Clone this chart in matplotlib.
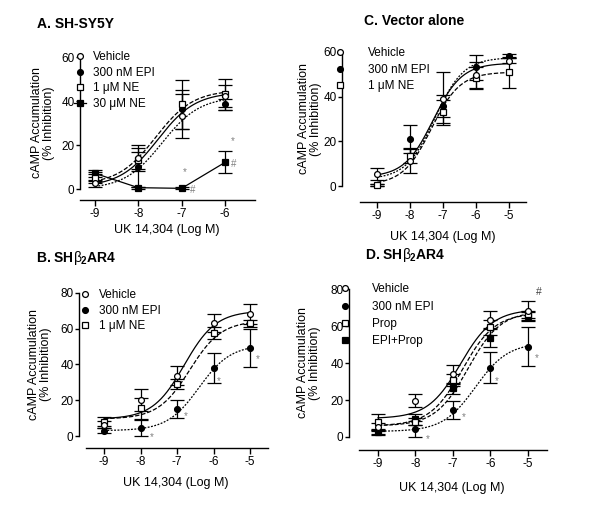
import numpy as np
import matplotlib
matplotlib.use('Agg')
import matplotlib.pyplot as plt
from matplotlib.lines import Line2D

plt.rcParams['font.family'] = ['Liberation Sans', 'DejaVu Sans']
plt.rcParams['mathtext.fontset'] = 'custom'
plt.rcParams['mathtext.rm'] = 'Liberation Sans'
plt.rcParams['mathtext.it'] = 'Liberation Sans'
plt.rcParams['mathtext.bf'] = 'Liberation Sans:bold'

W, H = 600, 516

# ---- data (log M of UK 14,304) ----
x_a = [-9, -8, -7, -6]
x_5 = [-9, -8, -7, -6, -5]

# A. SH-SY5Y
a_veh = [2.6, 14.2, 33.2, 42.5]
a_veh_err = [1.5, 6, 10, 5]
a_epi = [5.6, 9.8, 36.2, 38.6]
a_epi_err = [2, 9, 9, 2.5]
a_ne1 = [4.8, 13, 38.5, 43]
a_ne1_err = [2, 4, 11, 7]
a_ne30 = [7.1, 0.6, 0.3, 12.1]
a_ne30_err = [1.5, 0.5, 0.5, 5]
# fitted curve parameters (bottom, top, logEC50)
a_fit = {'veh': (1, 44, -7.55), 'epi': (0, 42, -7.45), 'ne1': (2, 45, -7.6)}

# C. Vector alone
c_veh = [5.4, 11.2, 39.1, 49.7, 56.1]
c_veh_err = [2.5, 5.5, 11.8, 6, 1.2]
c_epi = [0.5, 21, 35.8, 53.1, 58.2]
c_epi_err = [0.5, 6.3, 5, 5.6, 1]
c_ne1 = [0.3, 13.6, 33.3, 48.2, 50.9]
c_ne1_err = [0.5, 3.5, 5, 5, 7]
c_fit = {'veh': (4, 55, -7.3), 'epi': (3, 57.5, -7.25), 'ne1': (0.5, 51, -7.35)}

# B. SHb2AR4
b_veh = [6.2, 20.1, 33.8, 63.4, 68.3]
b_veh_err = [2, 6, 5.5, 5, 5.5]
b_epi = [3.0, 4.7, 14.9, 37.9, 49.1]
b_epi_err = [1.5, 4.5, 5, 8.5, 10.5]
b_ne1 = [8, 15.5, 29.1, 57.5, 63]
b_ne1_err = [2.5, 6, 3, 3.5, 2]
b_fit = {'veh': (9.5, 70, -6.8), 'epi': (3, 51, -6.4), 'ne1': (9.5, 64.5, -6.65)}

# D. SHb2AR4
d_veh = [5.6, 19.6, 33.9, 63.2, 68.1]
d_veh_err = [2, 3.5, 5, 5, 5.5]
d_epi = [3.0, 4.3, 14.6, 37.5, 48.8]
d_epi_err = [1.5, 4.3, 5, 8.4, 10.5]
d_prop = [7.9, 8.3, 30.8, 59.3, 66.3]
d_prop_err = [4.5, 2, 3, 4, 2]
d_epiprop = [2.5, 9.7, 26.3, 53.7, 65.5]
d_epiprop_err = [1.5, 3, 3, 5, 2]
d_fit = {'veh': (10, 69, -6.8), 'epi': (3, 51, -6.4),
         'prop': (6, 67, -6.75), 'epiprop': (6, 68, -6.6)}

# significance marks (x, y, symbol)
a_marks = [(-6.92, 7.9, '*'), (-6.75, -0.5, '#'), (-5.81, 21.8, '*'), (-5.81, 11.4, '#')]
b_marks = [(-7.68, -0.4, '*'), (-6.75, 11.4, '*'), (-5.85, 31, '*'), (-4.80, 43.1, '*')]
d_marks = [(-7.68, -1, '*'), (-6.72, 11, '*'), (-5.82, 30.3, '*'), (-4.77, 42.9, '*')]

FS = 8.5
LW = 0.9
MS = 4.2

fig = plt.figure(figsize=(6, 5.16), dpi=100)


def px_axes(left, right, top, bottom):
    return fig.add_axes([left / W, 1 - bottom / H, (right - left) / W, (bottom - top) / H])


def style(ax, xlim, ylim, xb, yb, xticks, yticks):
    ax.set_xlim(xlim)
    ax.set_ylim(ylim)
    for s in ['top', 'right']:
        ax.spines[s].set_visible(False)
    ax.spines['left'].set_bounds(*yb)
    ax.spines['bottom'].set_bounds(*xb)
    for s in ['left', 'bottom']:
        ax.spines[s].set_linewidth(1.0)
    ax.set_xticks(xticks)
    ax.set_xticklabels([str(t) for t in xticks])
    ax.set_yticks(yticks)
    ax.tick_params(axis='x', direction='out', length=4.3, width=1.0, labelsize=FS, pad=1.5)
    ax.tick_params(axis='y', direction='out', length=3, width=1.0, labelsize=FS, pad=1)


def sig(x, p):
    bottom, top, ec50 = p
    return bottom + (top - bottom) / (1 + 10 ** (ec50 - x))


def series(ax, x, y, err, marker, filled, fit=None, ls='-', connect=False):
    ax.errorbar(x, y, yerr=err, fmt='none', ecolor='k', elinewidth=LW, capsize=4.8,
                capthick=LW, zorder=2)
    if fit is not None:
        xf = np.linspace(min(x), max(x), 200)
        ax.plot(xf, sig(xf, fit), color='k', lw=LW, ls=ls, zorder=3)
    ax.plot(x, y, marker=marker, ls='-' if connect else 'none', color='k', lw=LW,
            ms=MS if marker == 'o' else MS - 0.3,
            mfc='k' if filled else 'white', mec='k', mew=0.9, zorder=4)


def legend(ax, entries, mx, tx, top, pitch):
    handles, names = [], []
    for marker, filled, line, name in entries:
        handles.append(Line2D([], [], marker=marker, color='k', lw=LW if line else 0,
                              ms=MS, mfc='k' if filled else 'white', mec='k', mew=0.9))
        names.append(name)
    hl = 1.0
    fpx = FS * 100 / 72
    half = hl * fpx / 2
    pad = (tx - mx - half) / fpx
    ax.legend(handles, names, loc='upper left',
              bbox_to_anchor=((mx - half) / W, 1 - top / H),
              bbox_transform=fig.transFigure, frameon=False, fontsize=FS,
              handlelength=hl, handletextpad=pad, borderpad=0, borderaxespad=0,
              labelspacing=(pitch - 12.0) / fpx)


def marks(ax, items, color='0.5'):
    for x, y, s in items:
        ax.text(x, y, s, fontsize=7, color=color, ha='center', va='center')


def labels(title, tx, ty, ylx, yly, xlx, xly):
    fig.text(tx / W, 1 - ty / H, title, fontsize=10, fontweight='bold', ha='left', va='center')
    fig.text(ylx / W, 1 - yly / H, 'cAMP Accumulation\n(% Inhibition)', fontsize=FS + 0.5,
             rotation=90, ha='center', va='center', multialignment='center', linespacing=1.05)
    fig.text(xlx / W, 1 - xly / H, 'UK 14,304 (Log M)', fontsize=FS + 0.5, ha='center', va='center')


# ---------- A ----------
ax = px_axes(80, 255, 50, 200)
series(ax, x_a, a_ne30, a_ne30_err, 's', True, connect=True)
series(ax, x_a, a_epi, a_epi_err, 'o', True, a_fit['epi'], ls=(0, (1.5, 1.2)))
series(ax, x_a, a_ne1, a_ne1_err, 's', False, a_fit['ne1'], ls=(0, (3.5, 1.5)))
series(ax, x_a, a_veh, a_veh_err, 'o', False, a_fit['veh'], ls='-')
style(ax, (-9.346, -5.308), (-5.0, 63.2), (-9.346, -5.308), (0, 60), x_a, [0, 20, 40, 60])
marks(ax, a_marks)
legend(ax, [('o', False, False, 'Vehicle'), ('o', True, False, '300 nM EPI'),
            ('s', False, False, '1 μM NE'), ('s', True, True, '30 μM NE')], 80, 93, 51.5, 15.5)
labels('A. SH-SY5Y', 37, 24.5, 43, 123, 167, 230)

# ---------- C ----------
ax = px_axes(342, 526, 45, 202)
series(ax, x_5, c_epi, c_epi_err, 'o', True, c_fit['epi'], ls=(0, (1.5, 1.2)))
series(ax, x_5, c_ne1, c_ne1_err, 's', False, c_fit['ne1'], ls=(0, (3.5, 1.5)))
series(ax, x_5, c_veh, c_veh_err, 'o', False, c_fit['veh'], ls='-')
style(ax, (-10.06, -4.485), (-7.16, 63.1), (-9.515, -4.485), (0, 60), x_5, [0, 20, 40, 60])
legend(ax, [('o', False, False, 'Vehicle'), ('o', True, False, '300 nM EPI'),
            ('s', False, False, '1 μM NE')], 340, 368, 47.5, 16.5)
labels('C. Vector alone', 364, 21, 310, 119, 443, 237)

# ---------- B ----------
ax = px_axes(79, 268, 286, 448)
series(ax, x_5, b_epi, b_epi_err, 'o', True, b_fit['epi'], ls=(0, (1.5, 1.2)))
series(ax, x_5, b_ne1, b_ne1_err, 's', False, b_fit['ne1'], ls=(0, (3.5, 1.5)))
series(ax, x_5, b_veh, b_veh_err, 'o', False, b_fit['veh'], ls='-')
style(ax, (-9.685, -4.507), (-6.71, 83.9), (-9.493, -4.507), (0, 80), x_5, [0, 20, 40, 60, 80])
marks(ax, b_marks)
legend(ax, [('o', False, False, 'Vehicle'), ('o', True, False, '300 nM EPI'),
            ('s', False, False, '1 μM NE')], 85, 99, 289.5, 15.5)
labels(r'B. SH$\beta_\mathbf{2}$AR4', 36, 258, 40, 364, 176, 483)

# ---------- D ----------
ax = px_axes(349, 547, 282, 450)
series(ax, x_5, d_epi, d_epi_err, 'o', True, d_fit['epi'], ls=(0, (1.5, 1.2)))
series(ax, x_5, d_epiprop, d_epiprop_err, 's', True, d_fit['epiprop'], ls=(0, (3, 1.5)))
series(ax, x_5, d_prop, d_prop_err, 's', False, d_fit['prop'], ls=(0, (3.5, 1.5)))
series(ax, x_5, d_veh, d_veh_err, 'o', False, d_fit['veh'], ls='-')
style(ax, (-9.773, -4.493), (-7.03, 83.8), (-9.507, -4.493), (0, 80), x_5, [0, 20, 40, 60, 80])
marks(ax, d_marks)
ax.text(-4.7, 78.2, '#', fontsize=7.5, color='0.25', ha='center', va='center')
legend(ax, [('o', False, False, 'Vehicle'), ('o', True, False, '300 nM EPI'),
            ('s', False, False, 'Prop'), ('s', True, False, 'EPI+Prop')], 345, 372, 283.5, 17.3)
labels(r'D. SH$\beta_\mathbf{2}$AR4', 365, 255, 309, 363, 452, 488)

fig.savefig('out.png', dpi=100)
